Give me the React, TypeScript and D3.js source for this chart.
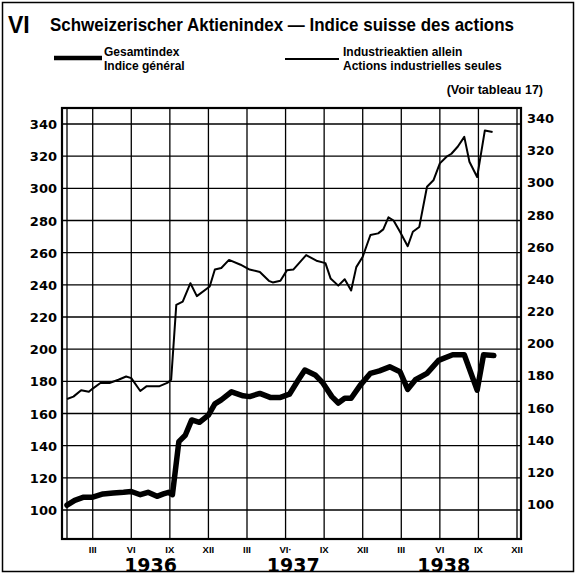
import React from 'react';
import * as d3 from 'd3';

// months counted from start of January 1936
const gesamtMonths = [0, 0.6, 1.3, 2.0, 2.8, 3.6, 4.4, 5.0, 5.7, 6.3, 7.0, 7.5, 7.9, 8.2, 8.7, 9.2, 9.7, 10.3, 11.0, 11.5, 12.0, 12.8, 13.7, 14.2, 15.0, 15.8, 16.6, 17.3, 18.0, 18.5, 19.3, 19.9, 20.6, 21.1, 21.6, 22.1, 22.8, 23.6, 24.3, 25.1, 25.9, 26.5, 27.1, 28.0, 28.9, 30.0, 30.9, 31.9, 32.4, 33.2];
const gesamtValues = [103, 106, 108, 108, 110, 110.5, 111, 111.5, 109.5, 111, 108.5, 110, 111, 109.5, 142.5, 146.5, 156, 154.5, 159, 166, 168.5, 173.5, 171, 170.5, 172.5, 170, 170, 172, 181, 187, 184, 179, 170.5, 166.5, 169.5, 169.5, 177.5, 185, 186.5, 189, 186, 175, 181, 185, 193, 196.5, 196.5, 174.5, 196.5, 196];

const industrieMonths = [0, 0.5, 1.1, 1.7, 2.0, 2.6, 3.3, 4.0, 4.6, 5.0, 5.7, 6.2, 7.2, 7.8, 8.1, 8.5, 9.0, 9.6, 10.1, 11.1, 11.5, 12.0, 12.6, 13.5, 14.2, 15.0, 15.7, 16.0, 16.6, 17.1, 17.6, 18.6, 19.4, 20.1, 20.5, 21.1, 21.6, 22.1, 22.5, 23.0, 23.6, 24.2, 24.6, 25.0, 25.4, 25.9, 26.5, 26.9, 27.4, 28.0, 28.5, 29.0, 29.5, 29.9, 30.4, 30.9, 31.3, 31.9, 32.5, 33.1];
const industrieValues = [169, 170.5, 174.5, 173.5, 175.5, 179, 179, 181, 183, 182, 174, 177, 177, 179, 181, 227.5, 229.5, 241, 233, 239, 249.5, 250.5, 255.5, 252.5, 249.5, 248, 242.5, 241.5, 242.5, 249, 249.5, 258.5, 255, 253.5, 244, 239.5, 243.5, 236.5, 251, 257.5, 271, 272, 274.5, 282, 280, 273, 264, 273, 276, 301, 305, 315.5, 319.5, 321.5, 326, 332, 316.5, 307, 336, 335];

const gridMonths = [0, 2, 5, 8, 11, 14, 17, 20, 23, 26, 29, 32, 35];
const monthLabels = ['', 'III', 'VI', 'IX', 'XII', 'III', 'VI·', 'IX', 'XII', 'III', 'VI', 'IX', 'XII'];
const years = ['1936', '1937', '1938'];
const yearCenters = [6.5, 17.6, 29.3];
const yTicks = [100, 120, 140, 160, 180, 200, 220, 240, 260, 280, 300, 320, 340];

const W = 577;
const H = 575;
const frame = { left: 62, right: 521, top: 108, bottom: 539 };

export default function App() {
  const x = d3.scaleLinear().domain([0, 35]).range([67, 517]);
  const y = d3.scaleLinear().domain([100, 340]).range([510, 124]);

  const line = d3.line<[number, number]>()
    .x(d => x(d[0]))
    .y(d => y(d[1]));

  const gesamt = gesamtMonths.map((m, i) => [m, gesamtValues[i]] as [number, number]);
  const industrie = industrieMonths.map((m, i) => [m, industrieValues[i]] as [number, number]);

  const bold = { fontWeight: 'bold' as const, fill: '#000' };

  return (
    <svg width={W} height={H} style={{ position: 'absolute', left: 0, top: 0, background: '#fff' }}>
      <rect x={2.5} y={2.5} width={571} height={569} fill="none" stroke="#000" strokeWidth={1.5} />

      {/* title */}
      <text x={8} y={33} fontFamily="Liberation Sans" fontSize={23} style={bold}>VI</text>
      <text x={50} y={31} fontFamily="Liberation Sans" fontSize={18.5} style={bold}
        textLength={464} lengthAdjust="spacingAndGlyphs">
        Schweizerischer  Aktienindex — Indice suisse des actions
      </text>

      {/* legend */}
      <line x1={54} x2={102} y1={58} y2={58} stroke="#000" strokeWidth={4.5} />
      <text x={104} y={56} fontFamily="Liberation Sans" fontSize={12} style={bold}>Gesamtindex</text>
      <text x={104} y={70} fontFamily="Liberation Sans" fontSize={12} style={bold}>Indice général</text>
      <line x1={285} x2={339} y1={59} y2={59} stroke="#000" strokeWidth={1.8} />
      <text x={343} y={56} fontFamily="Liberation Sans" fontSize={12} style={bold}>Industrieaktien allein</text>
      <text x={343} y={70} fontFamily="Liberation Sans" fontSize={12} style={bold}>Actions industrielles seules</text>
      <text x={543} y={94} textAnchor="end" fontFamily="Liberation Sans" fontSize={12.5} style={bold}>(Voir tableau 17)</text>

      {/* grid */}
      {yTicks.map(t => (
        <line key={'h' + t} x1={frame.left} x2={frame.right} y1={y(t)} y2={y(t)} stroke="#000" strokeWidth={1.3} />
      ))}
      {gridMonths.map(m => (
        <line key={'v' + m} x1={x(m)} x2={x(m)} y1={frame.top} y2={frame.bottom} stroke="#000" strokeWidth={1.3} />
      ))}
      <rect x={frame.left} y={frame.top} width={frame.right - frame.left} height={frame.bottom - frame.top}
        fill="none" stroke="#000" strokeWidth={2.2} />

      {/* axis labels */}
      {yTicks.map(t => (
        <text key={'l' + t} x={57} y={y(t) + 5} textAnchor="end" fontFamily="DejaVu Sans" fontSize={13} style={bold}>{t}</text>
      ))}
      {yTicks.map(t => (
        <text key={'r' + t} x={527} y={y(t) - 1} fontFamily="DejaVu Sans" fontSize={13} style={bold}>{t}</text>
      ))}
      {gridMonths.map((m, i) => (
        <text key={'m' + m} x={x(m)} y={553} textAnchor="middle" fontFamily="Liberation Sans" fontSize={9.5} style={bold}>{monthLabels[i]}</text>
      ))}
      {years.map((yr, i) => (
        <text key={yr} x={x(yearCenters[i])} y={572} textAnchor="middle" fontFamily="DejaVu Sans" fontSize={19} style={bold}>{yr}</text>
      ))}

      {/* series */}
      <path d={line(industrie) ?? ''} fill="none" stroke="#000" strokeWidth={2} strokeLinejoin="round" />
      <path d={line(gesamt) ?? ''} fill="none" stroke="#000" strokeWidth={5.5} strokeLinejoin="round" strokeLinecap="round" />
    </svg>
  );
}
